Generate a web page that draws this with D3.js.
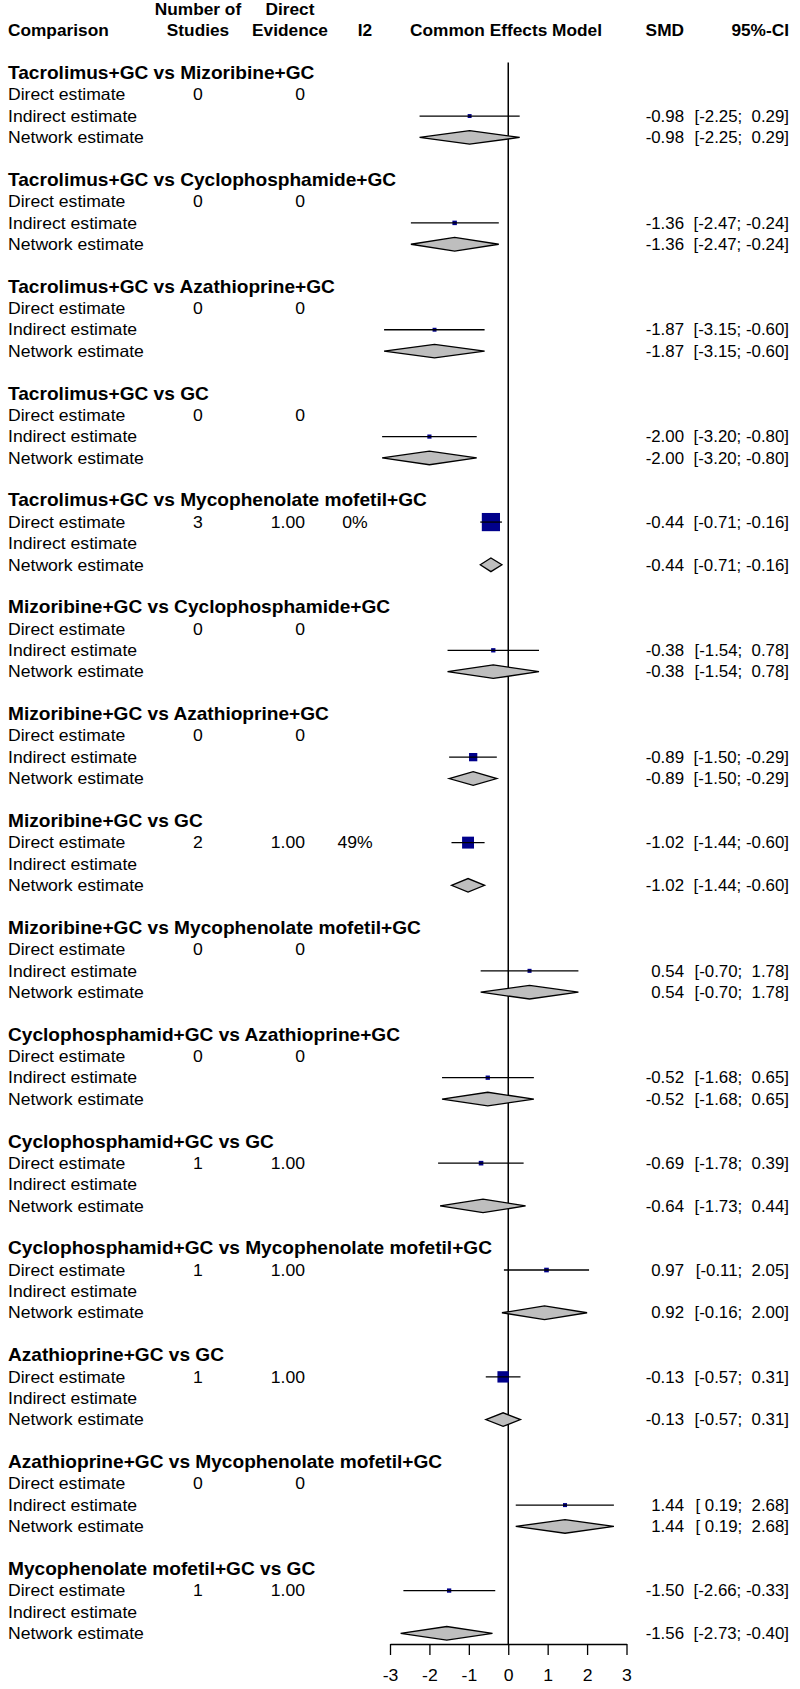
<!DOCTYPE html>
<html>
<head>
<meta charset="utf-8">
<script src="https://cdn.jsdelivr.net/npm/d3@7"></script>
<style>
  body { margin: 0; background: #fff; }
  svg { display: block; font-family: "Liberation Sans", Arial, sans-serif; }
  text { white-space: pre; fill: #000; }
</style>
</head>
<body>
<svg id="chart"></svg>
<script>
var comparisons = [
  "Tacrolimus+GC vs Mizoribine+GC",
  "Tacrolimus+GC vs Cyclophosphamide+GC",
  "Tacrolimus+GC vs Azathioprine+GC",
  "Tacrolimus+GC vs GC",
  "Tacrolimus+GC vs Mycophenolate mofetil+GC",
  "Mizoribine+GC vs Cyclophosphamide+GC",
  "Mizoribine+GC vs Azathioprine+GC",
  "Mizoribine+GC vs GC",
  "Mizoribine+GC vs Mycophenolate mofetil+GC",
  "Cyclophosphamid+GC vs Azathioprine+GC",
  "Cyclophosphamid+GC vs GC",
  "Cyclophosphamid+GC vs Mycophenolate mofetil+GC",
  "Azathioprine+GC vs GC",
  "Azathioprine+GC vs Mycophenolate mofetil+GC",
  "Mycophenolate mofetil+GC vs GC"
];
var nStudies = [0, 0, 0, 0, 3, 0, 0, 2, 0, 0, 1, 1, 1, 0, 1];
var directEvidence = [0, 0, 0, 0, 1, 0, 0, 1, 0, 0, 1, 1, 1, 0, 1];
var i2 = [null, null, null, null, 0, null, null, 49, null, null, null, null, null, null, null];

// [SMD, lower, upper]
var directEst = [
  null, null, null, null, [-0.44, -0.71, -0.16],
  null, null, [-1.02, -1.44, -0.60], null, null,
  [-0.69, -1.78, 0.39], [0.97, -0.11, 2.05], [-0.13, -0.57, 0.31], null, [-1.50, -2.66, -0.33]
];
var indirectEst = [
  [-0.98, -2.25, 0.29], [-1.36, -2.47, -0.24], [-1.87, -3.15, -0.60], [-2.00, -3.20, -0.80], null,
  [-0.38, -1.54, 0.78], [-0.89, -1.50, -0.29], null, [0.54, -0.70, 1.78], [-0.52, -1.68, 0.65],
  null, null, null, [1.44, 0.19, 2.68], null
];
var networkEst = [
  [-0.98, -2.25, 0.29], [-1.36, -2.47, -0.24], [-1.87, -3.15, -0.60], [-2.00, -3.20, -0.80], [-0.44, -0.71, -0.16],
  [-0.38, -1.54, 0.78], [-0.89, -1.50, -0.29], [-1.02, -1.44, -0.60], [0.54, -0.70, 1.78], [-0.52, -1.68, 0.65],
  [-0.64, -1.73, 0.44], [0.92, -0.16, 2.00], [-0.13, -0.57, 0.31], [1.44, 0.19, 2.68], [-1.56, -2.73, -0.40]
];
var rowLabels = ["Direct estimate", "Indirect estimate", "Network estimate"];
var tickValues = [-3, -2, -1, 0, 1, 2, 3];

var W = 800, H = 1689;
var sx = 1.08; // picture is a bit wider than tall
var rowH = 21.37;
var nRows = comparisons.length * 5 - 2;

var svg = d3.select("#chart").attr("width", W).attr("height", H);
svg.append("rect").attr("width", W).attr("height", H).attr("fill", "#fff");

var x = d3.scaleLinear().domain([-3, 3]).range([390, 626.5]);
var y = d3.scaleLinear().domain([0, 1]).range([73.3, 73.3 + rowH]);
var base = 5.7; // text baseline below row centre

function txt(px, r, s, anchor, size, bold) {
  return svg.append("text")
    .attr("transform", "translate(" + px + "," + (y(r) + base) + ") scale(" + sx + ",1)")
    .attr("text-anchor", anchor || "start")
    .style("font-size", size + "px")
    .style("font-weight", bold ? "bold" : "normal")
    .text(s);
}

function pad(v) {
  return v.toFixed(2).padStart(5, " ");
}

// SMD and CI columns
function estText(r, e) {
  txt(684, r, e[0].toFixed(2), "end", 15.6, false);
  txt(789, r, "[" + pad(e[1]) + "; " + pad(e[2]) + "]", "end", 15.6, false);
}

// header
txt(198, -3, "Number of", "middle", 16, true);
txt(290, -3, "Direct", "middle", 16, true);
txt(8, -2, "Comparison", "start", 16, true);
txt(198, -2, "Studies", "middle", 16, true);
txt(290, -2, "Evidence", "middle", 16, true);
txt(365, -2, "I2", "middle", 16, true);
txt(506, -2, "Common Effects Model", "middle", 16, true);
txt(684, -2, "SMD", "end", 16, true);
txt(789, -2, "95%-CI", "end", 16, true);

// square size from precision (1 / CI width)
var allSq = directEst.concat(indirectEst).filter(function (d) { return d; });
var size = d3.scaleLinear()
  .domain([0, d3.max(allSq, function (d) { return 1 / (d[2] - d[1]); })])
  .range([0, 18.2]);

// zero line
svg.append("line")
  .attr("x1", x(0)).attr("x2", x(0))
  .attr("y1", y(-0.5)).attr("y2", y(nRows + 0.5))
  .attr("stroke", "#000").attr("stroke-width", 1.5);

comparisons.forEach(function (c, g) {
  var r0 = g * 5;
  txt(8, r0, c, "start", 17.7, true);
  rowLabels.forEach(function (lab, k) {
    txt(8, r0 + 1 + k, lab, "start", 16.3, false);
  });
  txt(198, r0 + 1, String(nStudies[g]), "middle", 16.3, false);
  txt(305, r0 + 1, directEvidence[g] === 0 ? "0" : directEvidence[g].toFixed(2), "end", 16.3, false);
  if (i2[g] !== null) txt(355, r0 + 1, i2[g] + "%", "middle", 16.3, false);

  [directEst[g], indirectEst[g]].forEach(function (e, k) {
    if (!e) return;
    var r = r0 + 1 + k, s = size(1 / (e[2] - e[1]));
    svg.append("rect")
      .attr("x", x(e[0]) - s / 2).attr("y", y(r) - s / 2)
      .attr("width", s).attr("height", s)
      .attr("fill", "#00008B");
    svg.append("line")
      .attr("x1", x(e[1])).attr("x2", x(e[2]))
      .attr("y1", y(r)).attr("y2", y(r))
      .attr("stroke", "#000").attr("stroke-width", 1.3);
    estText(r, e);
  });

  var n = networkEst[g], rn = r0 + 3, yc = y(rn);
  svg.append("polygon")
    .attr("points", [[x(n[1]), yc], [x(n[0]), yc - 6.8], [x(n[2]), yc], [x(n[0]), yc + 6.8]].join(" "))
    .attr("fill", "#BEBEBE").attr("stroke", "#000").attr("stroke-width", 1.3);
  estText(rn, n);
});

// axis
var axis = svg.append("g")
  .attr("transform", "translate(0," + y(nRows + 0.5) + ")")
  .call(d3.axisBottom(x).tickValues(tickValues).tickSize(11).tickSizeOuter(0).tickPadding(14)
    .tickFormat(d3.format("d")));
axis.select(".domain").attr("stroke-width", 1.3);
axis.selectAll(".tick line").attr("stroke-width", 1.3);
axis.selectAll("text")
  .attr("font-family", null).attr("font-size", null)
  .style("font-size", "16.3px")
  .attr("transform", "scale(" + sx + ",1)")
  .text(function (d) { return d < 0 ? "-" + Math.abs(d) : d; });
</script>
</body>
</html>
